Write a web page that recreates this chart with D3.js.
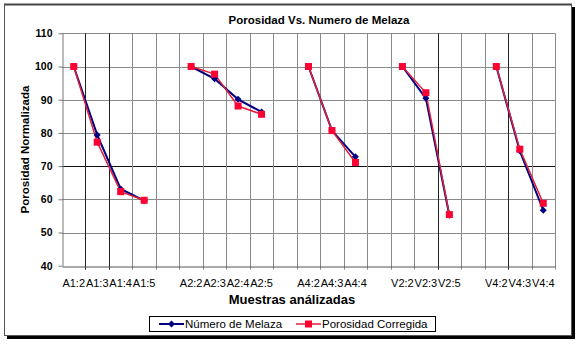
<!DOCTYPE html>
<html>
<head>
<meta charset="utf-8">
<script src="https://cdn.jsdelivr.net/npm/d3@7"></script>
<style>
  body { margin: 0; background: #fff; }
  text { font-family: "Liberation Sans", Arial, sans-serif; }
</style>
</head>
<body>
<script>
// Porosidad vs numero de melaza - excel style line chart

var categories = ["A1:2", "A1:3", "A1:4", "A1:5", "", "A2:2", "A2:3", "A2:4", "A2:5", "",
  "A4:2", "A4:3", "A4:4", "", "V2:2", "V2:3", "V2:5", "", "V4:2", "V4:3", "V4:4"];
var melaza = [100, 79.4, 63.1, 59.6, null, 100, 96.3, 90.1, 86.3, null,
  100, 80.7, 72.8, null, 100, 90.4, 55.2, null, 100, 74.6, 56.7];
var corregida = [100, 77.2, 62.3, 59.7, null, 100, 97.7, 88.1, 85.6, null,
  100, 80.7, 71.1, null, 100, 92.1, 55.4, null, 100, 75.1, 58.8];
var yTicks = [40, 50, 60, 70, 80, 90, 100, 110];
var seriesNames = ["Número de Melaza", "Porosidad Corregida"];

var W = 580, H = 345;
var pLeft = 62, pRight = 555, pTop = 33.3, pBottom = 265.7;

var svg = d3.select("body").append("svg")
  .attr("width", W).attr("height", H);

// chart frame + shadow
svg.append("rect").attr("x", 7).attr("y", 7).attr("width", 568).attr("height", 332).attr("fill", "#000");
svg.append("rect").attr("x", 4.5).attr("y", 4.5).attr("width", 567).attr("height", 331)
  .attr("fill", "#fff").attr("stroke", "#555").attr("stroke-width", 1);
svg.append("line").attr("x1", 4).attr("x2", 572).attr("y1", 4.5).attr("y2", 4.5)
  .attr("stroke", "#444").attr("stroke-width", 2);

var x = d3.scaleBand()
  .domain(categories.map((c, i) => i))
  .range([pLeft, pRight])
  .padding(0);
var y = d3.scaleLinear().domain([40, 110]).range([pBottom, pTop]);

var darkV = [1, 2, 16, 19];

// horizontal grid
svg.append("g").selectAll("line")
  .data(yTicks.filter(d => d > 40))
  .enter().append("line")
  .attr("x1", pLeft).attr("x2", pRight)
  .attr("y1", d => Math.round(y(d)) + 0.5).attr("y2", d => Math.round(y(d)) + 0.5)
  .attr("stroke", d => d == 70 ? "#111" : "#8a8a8a")
  .attr("stroke-width", 1);

// vertical grid at category boundaries
var bounds = d3.range(1, categories.length + 1);
svg.append("g").selectAll("line")
  .data(bounds)
  .enter().append("line")
  .attr("x1", d => Math.round(pLeft + d * x.step()) + 0.5)
  .attr("x2", d => Math.round(pLeft + d * x.step()) + 0.5)
  .attr("y1", pTop).attr("y2", pBottom + 4)
  .attr("stroke", d => darkV.includes(d) ? "#222" : "#8a8a8a")
  .attr("stroke-width", 1);

// y axis
var yAxis = svg.append("g")
  .attr("transform", "translate(" + (pLeft + 0.5) + ",0)")
  .call(d3.axisLeft(y).tickValues(yTicks).tickSize(4).tickSizeOuter(0));
yAxis.select(".domain").attr("stroke", "#777");
yAxis.selectAll(".tick line").attr("stroke", "#777");
yAxis.selectAll("text")
  .attr("x", -10)
  .style("font-family", "'Liberation Sans', Arial")
  .style("font-size", "10.5px").style("font-weight", "bold").attr("fill", "#000");

// x axis
var xAxis = svg.append("g")
  .attr("transform", "translate(0," + (Math.round(pBottom) + 0.5) + ")")
  .call(d3.axisBottom(x).tickValues([]).tickSizeOuter(0));
xAxis.select(".domain").attr("stroke", "#555");

svg.append("g").selectAll("text")
  .data(categories)
  .enter().append("text")
  .attr("x", (d, i) => x(i) + x.bandwidth() / 2)
  .attr("y", 287)
  .attr("text-anchor", "middle")
  .style("font-size", "11px")
  .text(d => d);

// series
var colors = ["#000080", "#ff0033"];
var lineColors = ["#000080", "#e0203c"];
var lineWidths = [2, 1.5];
var allSeries = [melaza, corregida];

var line = d3.line()
  .defined(d => d != null)
  .x((d, i) => x(i) + x.bandwidth() / 2)
  .y(d => y(d));

allSeries.forEach((s, k) => {
  svg.append("path")
    .datum(s)
    .attr("fill", "none")
    .attr("stroke", lineColors[k])
    .attr("stroke-width", lineWidths[k])
    .attr("d", line);
});

// markers: diamonds for melaza, squares for corregida
var pts = (s) => s.map((v, i) => ({ v: v, i: i })).filter(d => d.v != null);

svg.append("g").selectAll("path")
  .data(pts(melaza))
  .enter().append("path")
  .attr("transform", d => "translate(" + (x(d.i) + x.bandwidth() / 2) + "," + y(d.v) + ")")
  .attr("d", "M0,-3.5L3.5,0L0,3.5L-3.5,0Z")
  .attr("fill", colors[0]);

svg.append("g").selectAll("rect")
  .data(pts(corregida))
  .enter().append("rect")
  .attr("x", d => x(d.i) + x.bandwidth() / 2 - 3.5)
  .attr("y", d => y(d.v) - 3.5)
  .attr("width", 7).attr("height", 7)
  .attr("fill", colors[1]);

// titles
svg.append("text")
  .attr("x", 319).attr("y", 24)
  .attr("text-anchor", "middle")
  .style("font-size", "11.5px").style("font-weight", "bold")
  .text("Porosidad Vs. Numero de Melaza");

svg.append("text")
  .attr("transform", "translate(29," + (pTop + pBottom) / 2 + ") rotate(-90)")
  .attr("text-anchor", "middle")
  .style("font-size", "11.5px").style("font-weight", "bold")
  .text("Porosidad Normalizada");

svg.append("text")
  .attr("x", 292).attr("y", 304)
  .attr("text-anchor", "middle")
  .style("font-size", "13px").style("font-weight", "bold")
  .text("Muestras análizadas");

// legend
var lg = svg.append("g");
lg.append("rect")
  .attr("x", 149.5).attr("y", 316.5).attr("width", 286).attr("height", 15)
  .attr("fill", "#fff").attr("stroke", "#000").attr("stroke-width", 1);

var legendX = [159, 296];
seriesNames.forEach((name, k) => {
  var lx = legendX[k];
  lg.append("line")
    .attr("x1", lx).attr("x2", lx + 25)
    .attr("y1", 324).attr("y2", 324)
    .attr("stroke", lineColors[k]).attr("stroke-width", lineWidths[k]);
  if (k == 0) {
    lg.append("path")
      .attr("transform", "translate(" + (lx + 12.5) + ",324)")
      .attr("d", "M0,-3.5L3.5,0L0,3.5L-3.5,0Z")
      .attr("fill", colors[0]);
  } else {
    lg.append("rect")
      .attr("x", lx + 9).attr("y", 320.5).attr("width", 7).attr("height", 7)
      .attr("fill", colors[1]);
  }
  lg.append("text")
    .attr("x", lx + 26).attr("y", 328)
    .style("font-size", "11.5px")
    .text(name);
});
</script>
</body>
</html>
